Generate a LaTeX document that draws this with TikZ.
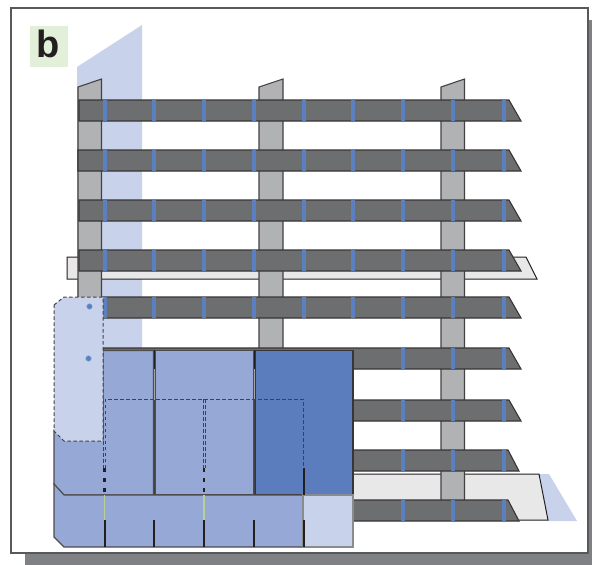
\documentclass[tikz,border=0pt]{standalone}
\usepackage{fontspec}
\setsansfont{Liberation Sans}
\usepackage{tikz}
\definecolor{shadowgrey}{HTML}{808184}
\definecolor{framegrey}{HTML}{58595B}
\definecolor{postgrey}{HTML}{B1B2B4}
\definecolor{bargrey}{HTML}{6D6E70}
\definecolor{stripgrey}{HTML}{E8E8E9}
\definecolor{paleblue}{HTML}{C8D3EB}
\definecolor{midblue}{HTML}{95A8D6}
\definecolor{deepblue}{HTML}{5B7DBE}
\definecolor{tagblue}{HTML}{5A80C0}
\definecolor{labelgreen}{HTML}{E2EFD9}
\definecolor{ink}{HTML}{231F20}
\definecolor{slitgreen}{HTML}{B9D08F}

\begin{document}
\begin{tikzpicture}[x=1pt, y=-1pt]
	\tikzstyle{every node} = [rectangle]
	\tikzstyle{post}    = [draw=ink!85, line width=1.1pt, fill=postgrey]
	\tikzstyle{bar}     = [draw=ink!90, line width=1.1pt, fill=bargrey]
	\tikzstyle{strip}   = [draw=ink, line width=1pt, fill=stripgrey]
	\tikzstyle{tag}     = [draw=none, fill=tagblue]
	\tikzstyle{panel}   = [draw=ink!80, line width=1.1pt, fill=midblue]
	\tikzstyle{hidden}  = [draw=ink!85, line width=1pt, dash pattern=on 3.5pt off 2.5pt]
	\tikzstyle{slit}    = [draw=ink, line width=1.2pt]
	\useasboundingbox (0,0) rectangle (592,565);
	% sheet
	\fill [shadowgrey] (25,20) rectangle (592,565);
	\draw [framegrey, line width=1.2pt, fill=white] (11,8) rectangle (588,553);
	\fill [labelgreen] (30,26) rectangle (68,67);
	\node (blabel) [inner sep=0pt, text=ink, font=\sffamily\bfseries\fontsize{38}{38}\selectfont] at (48.5,44) {b};
	% back planes
	\fill [paleblue] (77,67) -- (142,25) -- (142,352) -- (77,352) -- cycle;
	\fill [paleblue] (539,474) -- (549,474) -- (577,521) -- (548,521) -- cycle;
	\draw [strip] (67,257) -- (526,257) -- (537,279) -- (67,279) -- cycle;
	\draw [strip] (300,474) -- (539,474) -- (548,520) -- (300,520) -- cycle;
	% posts
	\draw [post] (78,350) -- (78,87) -- (101.5,79) -- (101.5,350);
	\draw [post] (259,350) -- (259,87) -- (283,79) -- (283,350);
	\draw [post] (441,505) -- (441,87) -- (464.5,79) -- (464.5,505) -- cycle;
	% bars and their tags
	\foreach \ytop/\xleft in {100/79, 150/78, 200/79, 250/79, 297/103, 348/103, 400/300} {
		\draw [bar] (\xleft,\ytop) -- (509,\ytop) -- (521,\ytop+21) -- (\xleft,\ytop+21) -- cycle;
	}
	\foreach \ytop in {450, 500} {
		\draw [bar] (300,\ytop) -- (508,\ytop) -- (519,\ytop+21) -- (300,\ytop+21) -- cycle;
	}
	\foreach \ytop in {100, 150, 200, 250, 297} {
		\foreach \xtag in {105, 154, 204, 254, 304, 353, 403, 453, 504} {
			\fill [tag] (\xtag-2.4,\ytop) rectangle (\xtag+2.4,\ytop+21);
		}
	}
	\foreach \ytop in {348, 400, 450, 500} {
		\foreach \xtag in {403, 453, 504} {
			\fill [tag] (\xtag-2.4,\ytop) rectangle (\xtag+2.4,\ytop+21);
		}
	}
	% panels
	\draw [panel] (54,430) -- (54,484) -- (64,495) -- (153.5,495) -- (153.5,350.5) -- (103,350.5) -- (103,430) -- cycle;
	\draw [panel] (155,350.5) rectangle (254,495);
	\draw [panel, draw=ink!90, fill=deepblue] (255.5,350.5) rectangle (353,495);
	\draw [panel] (54,484) -- (64,495) -- (303,495) -- (303,547) -- (64,547) -- (54,537) -- cycle;
	\draw [panel, draw=framegrey!70, fill=paleblue] (303,495) rectangle (353,547);
	% gaps between panels
	\draw [ink, line width=1.2pt] (154.2,350) -- (154.2,369);
	\draw [ink!40, line width=1.2pt] (154.2,369) -- (154.2,400);
	\draw [ink, line width=1.2pt] (254.7,350) -- (254.7,369);
	\draw [ink!40, line width=1.2pt] (254.7,369) -- (254.7,400);
	\draw [ink!85, line width=1.2pt] (154.2,400) -- (154.2,495);
	\draw [ink!85, line width=1.2pt] (254.7,400) -- (254.7,495);
	% slits in the lower panels
	\foreach \xslit in {154, 254, 304} {
		\draw [slit] (\xslit,520) -- (\xslit,547);
	}
	\foreach \xslit in {104.5, 204} {
		\draw [slit, line width=2pt] (\xslit,520) -- (\xslit,547);
		\draw [slitgreen, line width=1.4pt] (\xslit,495) -- (\xslit,520);
		\draw [slit, line width=2.4pt, dash pattern=on 4pt off 6pt] (\xslit,468) -- (\xslit,495);
	}
	\draw [slit, line width=1.6pt] (304,468) -- (304,495);
	% hidden outlines
	\draw [hidden] (105,468) -- (105,399) -- (303,399) -- (303,468);
	\draw [hidden] (103.2,399) -- (103.2,468);
	\draw [hidden] (203,399) -- (203,468);
	\draw [hidden] (205,399) -- (205,468);
	\draw [hidden, fill=paleblue] (54,305) -- (64,297) -- (103,297) -- (103,441) -- (64,441) -- (54,431) -- cycle;
	\fill [tag, draw=tagblue!70, line width=.5pt] (89.5,306.5) circle (2.8pt);
	\fill [tag, draw=tagblue!70, line width=.5pt] (88.5,358.5) circle (2.8pt);
\end{tikzpicture}
\end{document}
